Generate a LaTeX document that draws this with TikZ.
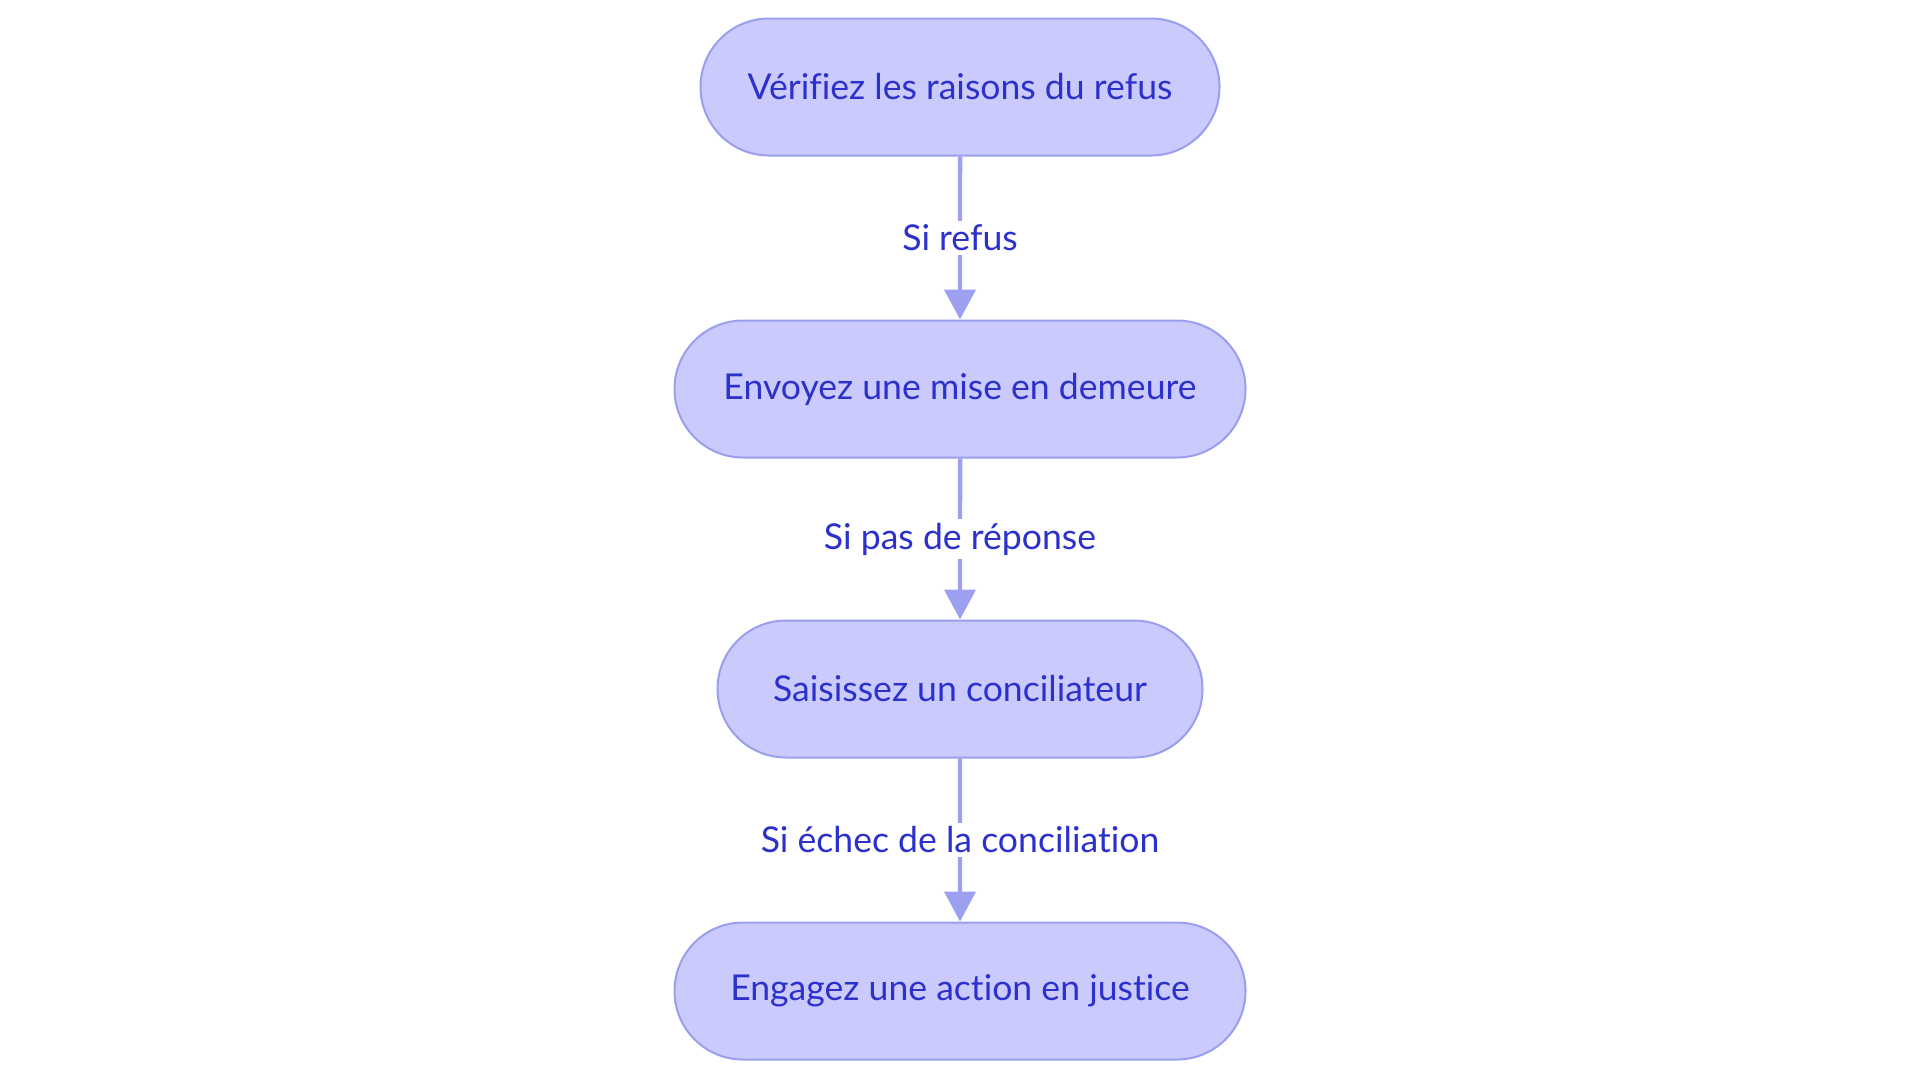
\documentclass[tikz,border=0pt]{standalone}
\usepackage{fontspec}
\setmainfont{Lato}[Ligatures=NoCommon]
\usetikzlibrary{arrows.meta,shapes.misc}
\definecolor{boxfill}{RGB}{202,203,252}
\definecolor{boxline}{RGB}{155,158,238}
\definecolor{txt}{RGB}{44,48,204}
\definecolor{arr}{RGB}{157,160,240}
\tikzset{
  stepbox/.style={rounded rectangle, draw=boxline, fill=boxfill, line width=1pt,
    minimum height=68.5pt, inner xsep=0pt, text=txt, font=\fontsize{17.8}{20}\selectfont},
  lbl/.style={fill=white, text=txt, font=\fontsize{17.8}{20}\selectfont, inner sep=2pt},
  conn/.style={draw=arr, line width=2.2pt, -{Triangle[length=15pt,width=15.5pt]}}
}
\begin{document}
\begin{tikzpicture}[x=0.5pt,y=-0.5pt]
\useasboundingbox (0,0) rectangle (1920,1083);
\node[stepbox, minimum width=259.5pt] (a) at (960,87) {Vérifiez les raisons du refus};
\node[stepbox, minimum width=285.5pt] (b) at (960,389) {Envoyez une mise en demeure};
\node[stepbox, minimum width=242.5pt] (c) at (960,689) {Saisissez un conciliateur};
\node[stepbox, minimum width=285.5pt] (d) at (960,991) {Engagez une action en justice};
\draw[conn] (a) -- node[lbl] {Si refus} (b);
\draw[conn] (b) -- node[lbl] {Si pas de réponse} (c);
\draw[conn] (c) -- node[lbl] {Si échec de la conciliation} (d);
\end{tikzpicture}
\end{document}
